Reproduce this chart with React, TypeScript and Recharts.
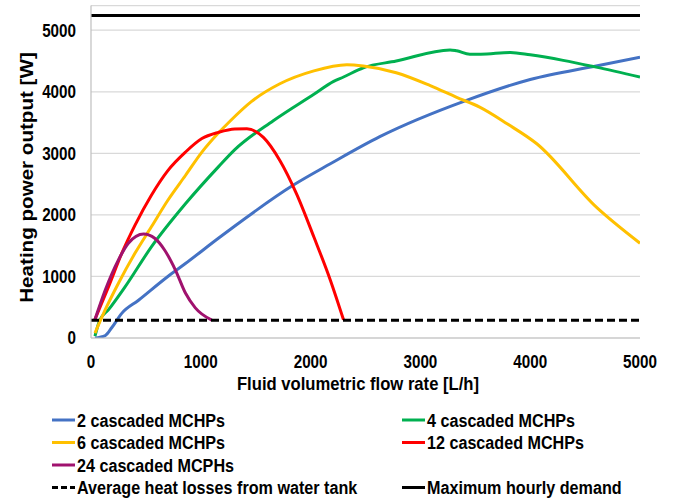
import React from "react";
import {
  LineChart,
  Line,
  XAxis,
  YAxis,
  CartesianGrid,
} from "recharts";

// flow rate [L/h] and heating power [W]
const flow2 = [36, 130, 190, 280, 430, 700, 860, 1160, 1310, 1840, 2180, 2630, 3420, 4000, 4600, 5000];
const power2 = [0, 40, 170, 400, 610, 1000, 1210, 1620, 1820, 2480, 2830, 3270, 3860, 4200, 4420, 4560];

const flow4 = [36, 80, 160, 310, 550, 860, 1160, 1310, 1660, 2030, 2210, 2300, 2480, 2780, 3270, 3330, 3450, 3550, 3820, 4000, 4300, 4600, 5000];
const power4 = [30, 290, 460, 830, 1480, 2180, 2780, 3060, 3530, 3960, 4170, 4240, 4390, 4500, 4680, 4665, 4610, 4610, 4640, 4600, 4510, 4400, 4240];

const flow6 = [36, 130, 250, 400, 550, 700, 860, 1010, 1160, 1270, 1460, 1720, 2030, 2330, 2480, 2780, 3090, 3330, 3540, 3790, 4060, 4600, 5000];
const power6 = [80, 460, 890, 1375, 1806, 2238, 2640, 3020, 3330, 3530, 3840, 4130, 4340, 4440, 4420, 4310, 4100, 3910, 3750, 3480, 3155, 2130, 1540];

const flow12 = [36, 160, 280, 400, 550, 700, 860, 1010, 1160, 1310, 1420, 1570, 1720, 1870, 2030, 2180, 2300];
const power12 = [300, 835, 1375, 1830, 2320, 2720, 3020, 3240, 3340, 3395, 3398, 3260, 2885, 2350, 1640, 940, 296];

const flow24 = [36, 130, 250, 340, 480, 580, 670, 770, 860, 950, 1100];
const power24 = [300, 780, 1270, 1540, 1690, 1620, 1430, 1100, 730, 490, 290];

const lossFlow = [0, 5000];
const lossPower = [290, 290];
const demandFlow = [0, 5000];
const demandPower = [5240, 5240];

const xTicks = [0, 1000, 2000, 3000, 4000, 5000];
const yTicks = [0, 1000, 2000, 3000, 4000, 5000];

const zip = (xs: number[], ys: number[]) => xs.map((x, i) => ({ x, y: ys[i] }));

const FONT = "'Liberation Sans', Arial, sans-serif";

const legendLeft = [
  { name: "2 cascaded MCHPs", color: "#4472C4", dash: "" },
  { name: "6 cascaded MCHPs", color: "#FFC000", dash: "" },
  { name: "24 cascaded MCPHs", color: "#A0126E", dash: "" },
  { name: "Average heat losses from water tank", color: "#000000", dash: "6 3" },
];
const legendRight = [
  { name: "4 cascaded MCHPs", color: "#00B050", dash: "" },
  { name: "12 cascaded MCHPs", color: "#FF0000", dash: "" },
  null,
  { name: "Maximum hourly demand", color: "#000000", dash: "" },
];

const XTick = (props: any) => (
  <text
    transform={`translate(${props.x},367.7) scale(0.87,1)`}
    textAnchor="middle"
    fontFamily={FONT}
    fontWeight="bold"
    fontSize={17.5}
    fill="#000"
  >
    {props.payload.value}
  </text>
);

const YTick = (props: any) => (
  <text
    transform={`translate(76,${props.y + 6.3}) scale(0.87,1)`}
    textAnchor="end"
    fontFamily={FONT}
    fontWeight="bold"
    fontSize={17.5}
    fill="#000"
  >
    {props.payload.value}
  </text>
);

function LegendBlock() {
  const rows = [420, 442.5, 465, 487.5];
  const item = (it: any, x: number, y: number, key: string) =>
    it ? (
      <g key={key}>
        <line
          x1={x}
          x2={x + 23}
          y1={y}
          y2={y}
          stroke={it.color}
          strokeWidth={3}
          strokeDasharray={it.dash || undefined}
        />
        <text
          transform={`translate(${x + 25},${y + 6.8}) scale(0.85,1)`}
          fontFamily={FONT}
          fontWeight="bold"
          fontSize={19}
          fill="#000"
        >
          {it.name}
        </text>
      </g>
    ) : null;
  return (
    <svg
      width={675}
      height={498}
      style={{ position: "absolute", left: 0, top: 0, pointerEvents: "none" }}
    >
      {legendLeft.map((it, i) => item(it, 52, rows[i], "l" + i))}
      {legendRight.map((it, i) => item(it, 402, rows[i], "r" + i))}
      <text
        transform="translate(358,390) scale(0.9,1)"
        textAnchor="middle"
        fontFamily={FONT}
        fontWeight="bold"
        fontSize={18.5}
        fill="#000"
      >
        Fluid volumetric flow rate [L/h]
      </text>
      <text
        transform="translate(33,177.5) scale(0.85,1) rotate(-90)"
        textAnchor="middle"
        fontFamily={FONT}
        fontWeight="bold"
        fontSize={20.6}
        fill="#000"
      >
        Heating power output [W]
      </text>
    </svg>
  );
}

export default function App() {
  return (
    <div
      style={{
        position: "absolute",
        left: 0,
        top: 0,
        width: 675,
        height: 498,
        background: "#fff",
      }}
    >
      <LineChart
        width={675}
        height={498}
        margin={{ top: 5.6, right: 35, left: 0, bottom: 100 }}
      >
        <CartesianGrid horizontal vertical={false} stroke="#d9d9d9" strokeWidth={1.2} />
        <XAxis
          dataKey="x"
          type="number"
          domain={[0, 5000]}
          ticks={xTicks}
          height={60}
          axisLine={{ stroke: "#bfbfbf", strokeWidth: 1.2 }}
          tickLine={false}
          tick={<XTick />}
          allowDataOverflow
        />
        <YAxis
          type="number"
          domain={[0, 5400]}
          ticks={yTicks}
          width={91}
          axisLine={{ stroke: "#bfbfbf", strokeWidth: 1.2 }}
          tickLine={false}
          tick={<YTick />}
          allowDataOverflow
        />
        <Line data={zip(flow2, power2)} dataKey="y" type="monotone" stroke="#4472C4" strokeWidth={3} dot={false} isAnimationActive={false} />
        <Line data={zip(flow4, power4)} dataKey="y" type="monotone" stroke="#00B050" strokeWidth={3} dot={false} isAnimationActive={false} />
        <Line data={zip(flow6, power6)} dataKey="y" type="monotone" stroke="#FFC000" strokeWidth={3} dot={false} isAnimationActive={false} />
        <Line data={zip(flow12, power12)} dataKey="y" type="monotone" stroke="#FF0000" strokeWidth={3} dot={false} isAnimationActive={false} />
        <Line data={zip(flow24, power24)} dataKey="y" type="monotone" stroke="#A0126E" strokeWidth={3} dot={false} isAnimationActive={false} />
        <Line data={zip(lossFlow, lossPower)} dataKey="y" type="linear" stroke="#000" strokeWidth={3} strokeDasharray="8 4" dot={false} isAnimationActive={false} />
        <Line data={zip(demandFlow, demandPower)} dataKey="y" type="linear" stroke="#000" strokeWidth={3} dot={false} isAnimationActive={false} />
      </LineChart>
      <LegendBlock />
    </div>
  );
}
